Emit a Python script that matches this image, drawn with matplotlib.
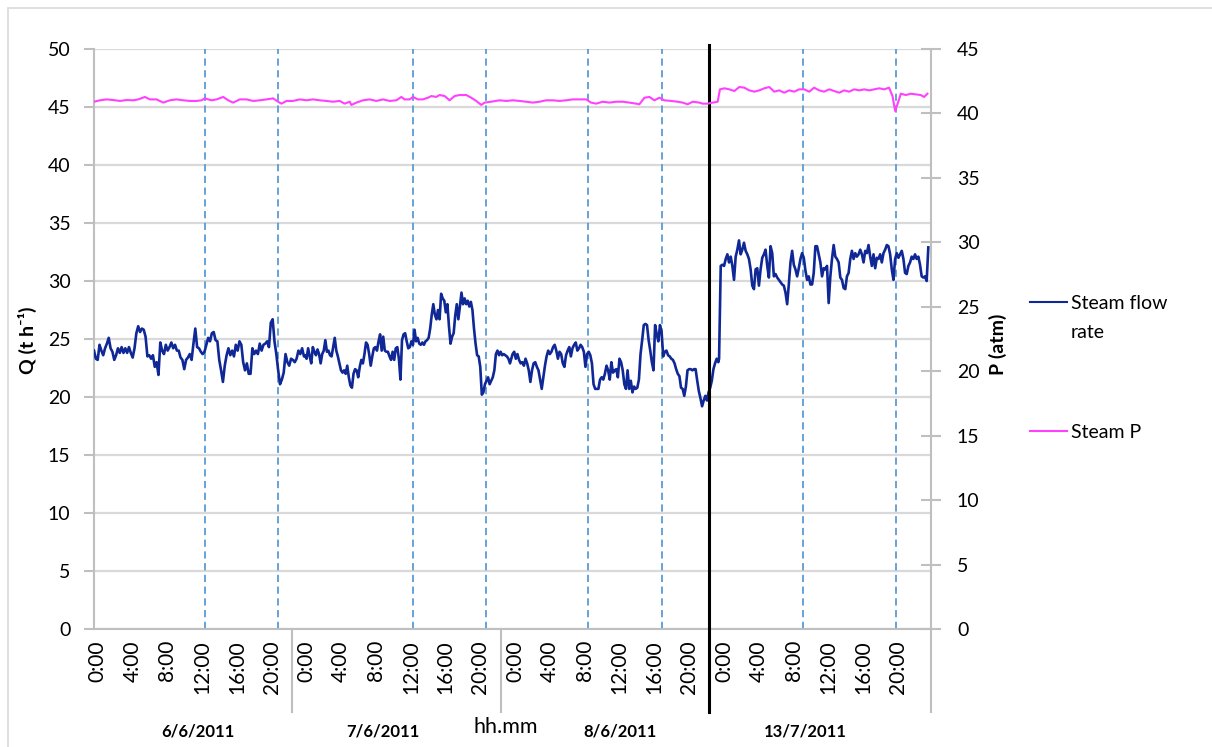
import numpy as np
import matplotlib.pyplot as plt
import matplotlib.transforms as mtransforms
from matplotlib.lines import Line2D
from matplotlib.patches import Rectangle

plt.rcParams['font.family'] = ['Lato', 'DejaVu Sans']

# --- Steam flow rate Q (t/h) in four stretches ---
# (start hour, end hour) of each stretch, hours counted from 6/6/2011 0:00 of the axis
q_bounds = [(-0.41, 23.72), (23.84, 47.40), (47.51, 71.34), (71.43, 95.48)]

q_seg1 = [24.0, 23.3, 23.2, 24.5, 24.0, 23.6, 24.2, 24.6, 25.1, 24.2, 23.9, 23.2, 23.6, 24.2, 23.8,
          24.3, 23.8, 24.2, 23.8, 24.3, 23.8, 23.4, 24.2, 25.5, 26.1, 25.6, 25.9, 25.8, 25.2, 23.5,
          23.6, 23.3, 23.6, 22.6, 23.0, 21.9, 24.7, 24.0, 23.7, 24.5, 24.0, 24.3, 24.7, 24.2, 24.5,
          24.0, 24.0, 23.4, 23.2, 22.4, 23.2, 23.4, 23.7, 23.2, 24.6, 25.9, 24.3, 24.2, 23.9, 23.7,
          23.9, 24.5, 25.1, 24.8, 25.5, 25.6, 24.9, 24.8, 23.2, 22.3, 21.3, 22.7, 23.6, 24.2, 23.6,
          24.0, 23.5, 24.5, 24.0, 24.8, 24.5, 23.0, 22.3, 22.9, 22.0, 22.0, 24.2, 23.7, 24.0, 23.7,
          24.6, 24.0, 24.5, 24.6, 24.8, 24.3, 26.4, 26.7, 24.8, 23.7, 22.3, 21.1, 21.5, 22.1, 23.7,
          23.0, 22.7, 23.3, 23.2, 23.0, 23.3, 24.0, 23.7, 24.2, 23.5]
q_seg2 = [23.6, 23.3, 24.2, 23.5, 22.9, 24.3, 23.9, 23.6, 24.1, 23.7, 22.9, 23.7, 24.0, 24.9, 23.9,
          24.0, 23.6, 23.5, 24.3, 25.1, 24.0, 23.5, 22.9, 22.3, 22.1, 22.3, 22.0, 22.7, 21.7, 21.0,
          20.8, 22.0, 22.4, 22.3, 21.7, 22.6, 23.2, 22.9, 23.7, 24.7, 24.5, 23.7, 22.7, 23.5, 24.2,
          24.3, 24.0, 24.8, 25.4, 24.0, 25.2, 24.0, 23.9, 23.9, 23.5, 23.2, 23.9, 23.2, 24.2, 24.3,
          23.3, 21.5, 24.9, 25.4, 25.5, 24.8, 24.2, 24.3, 24.8, 24.5, 25.8, 24.8, 25.1, 24.6, 24.5,
          24.7, 24.5, 24.8, 24.9, 25.1, 25.9, 27.1, 28.0, 27.1, 26.7, 27.5, 26.7, 28.9, 28.5, 28.3,
          27.3, 28.0, 26.1, 24.6, 25.2, 25.5, 27.0, 28.0, 26.7, 27.8, 29.0, 28.0, 28.5, 28.0, 28.3,
          27.8, 28.2, 27.5, 25.9, 24.6, 23.6, 23.5, 22.6, 20.2, 20.4, 21.1, 21.4, 21.7, 21.1, 21.4,
          21.7, 22.3, 23.7, 24.0, 23.6, 23.9, 23.6, 23.7, 23.6, 23.5, 23.3, 22.9]
q_seg3 = [23.2, 23.7, 23.9, 23.3, 23.7, 23.2, 22.9, 23.0, 22.7, 23.3, 22.9, 22.3, 21.3, 22.3, 22.9,
          23.0, 22.6, 22.3, 21.5, 20.7, 21.7, 22.7, 23.5, 24.0, 23.7, 23.9, 24.3, 24.5, 24.0, 23.3,
          23.9, 23.7, 22.9, 22.6, 23.6, 24.0, 24.3, 23.5, 24.2, 24.5, 24.7, 24.0, 24.2, 24.5, 24.3,
          23.9, 22.6, 23.7, 23.9, 23.6, 22.9, 21.1, 20.7, 20.7, 20.7, 21.5, 21.7, 21.5, 22.0, 22.7,
          22.3, 21.5, 23.0, 22.1, 22.3, 22.4, 21.7, 23.3, 23.0, 22.3, 21.1, 20.7, 22.3, 20.7, 21.4,
          20.4, 20.9, 20.7, 20.8, 21.5, 23.7, 24.9, 26.2, 26.3, 26.2, 24.9, 24.0, 23.0, 22.3, 26.2,
          25.4, 24.8, 26.2, 25.6, 23.5, 23.9, 24.0, 23.6, 23.5, 23.3, 23.2, 22.9, 22.4, 22.0, 21.8,
          20.8, 20.7, 20.1, 20.9, 22.3, 22.4, 22.4, 22.3, 22.4, 22.4, 21.4, 20.5, 19.9, 19.2, 19.7,
          20.1, 19.7, 20.4, 20.8, 21.4, 22.4, 22.9, 23.3, 23.0]
q_seg4 = [23.3, 31.3, 31.4, 31.3, 31.9, 32.3, 31.6, 32.1, 31.3, 30.1, 32.1, 32.7, 33.5, 32.3, 32.7,
          33.3, 32.6, 32.3, 31.9, 31.0, 29.6, 29.3, 31.0, 31.1, 29.6, 31.0, 32.0, 32.3, 32.7, 31.3,
          30.3, 33.0, 32.4, 30.4, 30.6, 30.3, 30.1, 29.9, 29.7, 29.6, 29.0, 28.0, 29.7, 31.6, 32.6,
          31.4, 31.0, 30.4, 31.1, 31.9, 32.4, 32.0, 30.9, 30.1, 30.4, 29.7, 29.7, 30.7, 33.0, 33.0,
          32.3, 31.6, 30.4, 31.1, 31.0, 31.3, 28.1, 30.4, 31.9, 33.1, 32.1, 31.9, 31.6, 30.3, 30.1,
          29.4, 29.3, 30.4, 30.7, 31.9, 32.6, 31.9, 32.4, 32.1, 32.3, 32.7, 32.3, 31.6, 32.6, 32.4,
          33.1, 32.1, 31.3, 32.3, 31.1, 32.0, 31.9, 32.3, 31.6, 32.4, 32.7, 33.1, 33.0, 32.3, 31.0,
          30.1, 31.9, 32.4, 32.0, 32.3, 32.6, 31.9, 30.7, 30.6, 31.3, 31.6, 32.1, 31.9, 32.3, 31.9,
          32.1, 31.4, 30.4, 30.3, 30.4, 30.0, 32.9]

# --- Steam pressure P (atm) ---
p_hours = [-0.41, 0.28, 1.04, 1.81, 2.57, 3.34, 4.10, 4.68, 5.44, 6.02, 6.78, 7.55, 8.31, 9.08,
           9.84, 10.61, 11.37, 11.95, 12.33, 13.10, 13.67, 14.44, 15.01, 15.58, 16.35, 17.11,
           17.88, 18.65, 19.41, 20.18, 20.75, 21.13, 21.71, 22.47, 23.24, 24.00, 24.77, 25.53,
           26.30, 27.06, 27.83, 28.40, 28.98, 29.17, 29.74, 30.51, 31.27, 32.04, 32.80, 33.57,
           34.34, 34.91, 35.29, 35.87, 36.25, 36.82, 37.40, 37.97, 38.36, 38.93, 39.31, 39.89,
           40.46, 41.03, 41.61, 42.37, 42.95, 43.52, 44.10, 44.48, 45.24, 46.20,
           46.97, 47.73, 48.50, 49.26, 50.03, 50.79, 51.56, 52.32, 53.09, 53.85, 54.62, 55.38,
           56.15, 56.72, 57.30, 58.06, 58.83, 59.59, 60.36, 61.13, 61.89, 62.27, 62.85, 63.42,
           63.99, 64.57, 65.14, 65.91, 66.67, 67.25, 67.82, 68.40, 69.16, 69.54, 70.12, 70.69,
           71.27, 71.53, 72.03, 72.61, 73.18, 73.75, 74.33, 74.90, 75.48, 76.05, 76.62, 77.20,
           77.77, 78.35, 78.92, 79.49, 80.07, 80.64, 81.22, 81.79, 82.36, 82.94, 83.51, 84.09,
           84.66, 85.24, 85.81, 86.38, 86.96, 87.53, 88.11, 88.68, 89.25, 89.83, 90.40, 90.97,
           91.36, 91.67, 91.93, 92.32, 92.89, 93.46, 94.04, 94.61, 94.99, 95.38]
p_vals = [40.91, 41.02, 41.09, 41.04, 40.97, 41.04, 41.02, 41.09, 41.28, 41.09, 41.09, 40.84,
          41.02, 41.09, 41.02, 40.97, 40.97, 41.02, 41.17, 41.02, 41.09, 41.28, 41.02, 40.84,
          41.09, 41.09, 40.97, 41.02, 41.09, 41.17, 40.91, 40.76, 40.97, 40.97, 41.09, 41.02,
          41.09, 41.02, 40.97, 40.91, 40.97, 40.76, 40.91, 40.66, 40.84, 41.02, 41.09, 40.97,
          41.09, 40.97, 41.02, 41.28, 41.09, 41.09, 41.28, 41.09, 41.09, 41.22, 41.35, 41.28,
          41.43, 41.35, 41.02, 41.35, 41.43, 41.43, 41.22, 40.97, 40.66, 40.84, 40.91, 41.02,
          40.97, 41.02, 40.97, 40.91, 40.84, 40.91, 41.02, 41.02, 40.97, 41.02, 41.09, 41.09,
          41.09, 40.84, 40.76, 40.91, 40.84, 40.91, 40.91, 40.84, 40.76, 40.71, 41.22, 41.28,
          41.02, 41.22, 41.02, 40.97, 40.91, 40.84, 40.71, 40.91, 40.84, 40.76, 40.76, 40.84,
          40.91, 41.87, 41.95, 41.87, 41.74, 42.05, 42.00, 41.79, 41.69, 41.79, 41.95, 42.05,
          41.69, 41.79, 41.61, 41.79, 41.69, 41.87, 41.87, 41.69, 42.00, 41.79, 41.69, 41.87,
          41.74, 41.61, 41.79, 41.69, 41.87, 41.79, 41.87, 41.79, 41.87, 41.95, 41.87, 42.00,
          41.35, 40.19, 40.71, 41.53, 41.43, 41.53, 41.48, 41.43, 41.28, 41.53]

# --- axis categories / markers ---
hour_ticks = [0, 4, 8, 12, 16, 20, 24, 28, 32, 36, 40, 44, 48, 52, 56, 60, 64, 68, 72, 76, 80, 84, 88, 92]
hour_labels = ['0:00', '4:00', '8:00', '12:00', '16:00', '20:00'] * 4
event_hours = [12.34, 20.70, 36.29, 44.64, 56.40, 64.84, 81.11, 91.77]
day_breaks = [22.31, 46.37, 95.73]
campaign_break = 70.33
day_names = ['6/6/2011', '7/6/2011', '8/6/2011', '13/7/2011']
day_label_hours = [11.56, 32.8, 60.0, 81.3]

BLUE = '#0f2896'
MAGENTA = '#ff40ff'
GRID = '#d9d9d9'
AXIS = '#bfbfbf'
W, H = 1212, 747

fig = plt.figure(figsize=(W / 100, H / 100), dpi=100)
ax = fig.add_axes([94 / W, 1 - 629 / H, (930.5 - 94) / W, 580 / H])
ax2 = ax.twinx()

# outer chart border (top and left only visible)
fig.add_artist(Rectangle((8 / W, -0.5), 1.5, 0.5 + 1 - 8 / H, transform=fig.transFigure,
                         fill=False, edgecolor=GRID, lw=1.2, clip_on=False))

t_q = np.concatenate([np.linspace(a, b, len(v)) for (a, b), v in
                      zip(q_bounds, [q_seg1, q_seg2, q_seg3, q_seg4])])
q = np.concatenate([q_seg1, q_seg2, q_seg3, q_seg4])

ax.set_xlim(-0.41, 95.73)
ax.set_ylim(0, 50)
ax.set_yticks(np.arange(0, 51, 5))
ax.yaxis.grid(True, color=GRID, lw=1.6)
ax.set_axisbelow(True)

for h in event_hours:
    ax.axvline(h, color='#5b9bd5', ls=(0, (4, 2.5)), lw=1.3, zorder=1)

ax.plot(t_q, q, color=BLUE, lw=1.9, zorder=3)

ax2.set_ylim(0, 45)
ax2.set_yticks(np.arange(0, 46, 5))
ax2.plot(p_hours, p_vals, color=MAGENTA, lw=1.5, zorder=3)
ax2.set_xlim(ax.get_xlim())

# spines and ticks
for a in (ax, ax2):
    for s in a.spines.values():
        s.set_visible(False)
ax.spines['left'].set_visible(True)
ax.spines['bottom'].set_visible(True)
ax2.spines['right'].set_visible(True)
for s in (ax.spines['left'], ax.spines['bottom'], ax2.spines['right']):
    s.set_color(AXIS)
    s.set_linewidth(1.5)

ax.set_xticks(hour_ticks)
ax.set_xticklabels(hour_labels, rotation=90)
ax.tick_params(axis='x', length=0, pad=8, labelsize=15)
ax.tick_params(axis='y', length=7, width=1.5, color=AXIS, pad=10, labelsize=14)
ax2.tick_params(axis='y', direction='inout', length=14, width=1.5, color=AXIS, pad=12, labelsize=14)

blend = mtransforms.blended_transform_factory(ax.transData, ax.transAxes)
for h in day_breaks:
    ax.plot([h, h], [0, -0.143], transform=blend, color=AXIS, lw=1.5, clip_on=False)
ax.plot([campaign_break, campaign_break], [1.007, -0.143], transform=blend,
        color='black', lw=2.2, clip_on=False, zorder=5)

for h, name in zip(day_label_hours, day_names):
    ax.text(h, -0.176, name, transform=blend, ha='center', va='center',
            fontsize=12, fontweight='bold')
ax.text(46.94, -0.169, 'hh.mm', transform=blend, ha='center', va='center', fontsize=15.5)

# axis titles
fig.text(27 / W, 1 - 340 / H, 'Q (t h⁻¹)', rotation=90, ha='center', va='center',
         fontsize=14, fontweight='bold')
fig.text(998 / W, 1 - 344 / H, 'P (atm)', rotation=90, ha='center', va='center',
         fontsize=14, fontweight='bold')

# legend
fig.add_artist(Line2D([1030 / W, 1067 / W], [1 - 302 / H] * 2, color=BLUE, lw=1.5))
fig.text(1071 / W, 1 - 304 / H, 'Steam flow', va='center', fontsize=14)
fig.text(1071 / W, 1 - 332 / H, 'rate', va='center', fontsize=14)
fig.add_artist(Line2D([1030 / W, 1067 / W], [1 - 431 / H] * 2, color=MAGENTA, lw=1.5))
fig.text(1071 / W, 1 - 432 / H, 'Steam P', va='center', fontsize=14)

fig.savefig('out.png', dpi=100)
